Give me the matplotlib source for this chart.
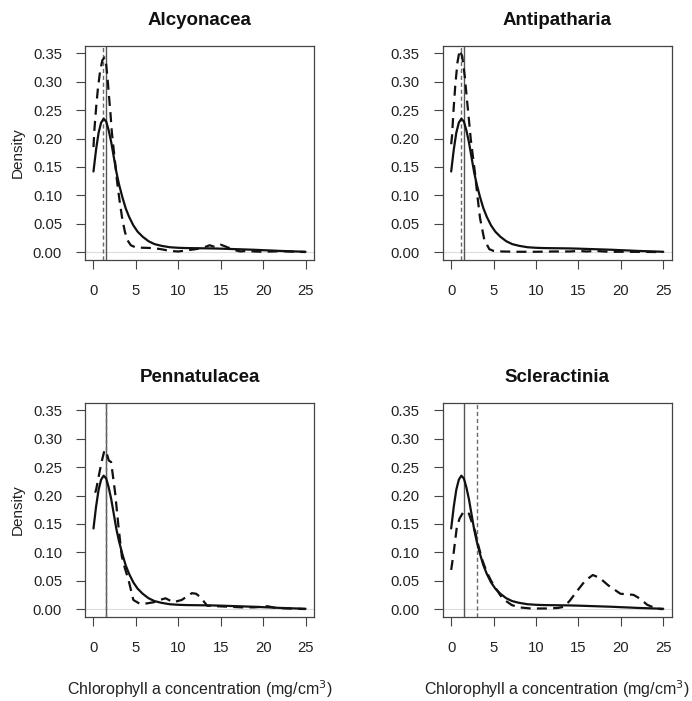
import matplotlib
matplotlib.use("Agg")
import matplotlib.pyplot as plt

plt.rcParams['font.family'] = ['Liberation Sans', 'DejaVu Sans']

# ---------------- data ----------------
titles = ["Alcyonacea", "Antipatharia", "Pennatulacea", "Scleractinia"]

# overall density (solid), same in every panel
overall_x = [0, 0.3, 0.6, 0.9, 1.2, 1.5, 1.8, 2.1, 2.4, 2.7, 3.0, 3.4, 3.8, 4.2, 4.7,
             5.2, 5.8, 6.5, 7.2, 8, 9, 10, 11, 12, 13, 14, 15, 16, 17, 18, 19, 20,
             21, 22, 23, 24, 25]
overall_y = [0.142, 0.180, 0.210, 0.228, 0.235, 0.230, 0.214, 0.193, 0.167, 0.141,
             0.120, 0.097, 0.077, 0.062, 0.047, 0.036, 0.027, 0.019, 0.014, 0.011,
             0.0085, 0.0075, 0.007, 0.0068, 0.0066, 0.0064, 0.006, 0.0055, 0.005,
             0.0045, 0.004, 0.0033, 0.0027, 0.002, 0.0015, 0.001, 0.0005]

# taxon densities (dashed)
alc_x = [0.0, 0.12, 0.32, 0.52, 0.79, 1.05, 1.3, 1.5, 1.69, 1.85, 2.0, 2.16, 2.35, 2.5,
         2.8, 3.1, 3.4, 3.7, 4.0, 4.4, 5.0, 6, 7, 8, 9, 10, 11, 12, 13, 13.7, 14.3,
         15, 15.7, 16.5, 17.3, 18, 19, 20, 21, 22, 23, 24, 25]
alc_y = [0.185, 0.218, 0.256, 0.288, 0.320, 0.338, 0.343, 0.330, 0.300, 0.271, 0.245,
         0.212, 0.185, 0.165, 0.122, 0.088, 0.058, 0.036, 0.021, 0.012, 0.008, 0.0075,
         0.007, 0.005, 0.002, 0.001, 0.003, 0.005, 0.008, 0.012, 0.009, 0.013, 0.009,
         0.004, 0.001, 0.002, 0.001, 0.0005, 0.001, 0.0015, 0.001, 0.0005, 0.0]

ant_x = [0.0, 0.1, 0.3, 0.5, 0.75, 1.0, 1.3, 1.6, 1.85, 2.05, 2.3, 2.55, 2.8, 3.1, 3.4,
         3.9, 4.5, 5.0, 6, 8, 10, 12, 14, 15, 16, 17, 18, 19, 20, 22, 25]
ant_y = [0.19, 0.205, 0.255, 0.297, 0.335, 0.356, 0.345, 0.310, 0.270, 0.240, 0.200,
         0.170, 0.140, 0.098, 0.060, 0.022, 0.005, 0.002, 0.001, 0.0005, 0.0005, 0.001,
         0.001, 0.002, 0.001, 0.002, 0.001, 0.0005, 0.0005, 0.0003, 0.0]

pen_x = [0.2, 0.32, 0.79, 1.05, 1.3, 1.55, 1.8, 2.08, 2.55, 2.95, 3.34, 3.7, 4.12, 4.7,
         5.5, 6.3, 7.1, 7.8, 8.5, 9.4, 10.4, 11.0, 11.6, 12.1, 12.6, 13.4, 14.6, 16,
         17.5, 19, 20.5, 21.5, 23, 25]
pen_y = [0.205, 0.211, 0.247, 0.265, 0.280, 0.275, 0.262, 0.259, 0.205, 0.145, 0.093,
         0.072, 0.052, 0.016, 0.009, 0.010, 0.012, 0.016, 0.019, 0.012, 0.016, 0.022,
         0.028, 0.027, 0.021, 0.006, 0.005, 0.004, 0.003, 0.003, 0.005, 0.002, 0.001, 0.0]

scl_x = [0.0, 0.3, 0.67, 1.0, 1.4, 1.74, 2.1, 2.5, 2.8, 3.2, 3.7, 4.2, 4.7, 5.2, 5.8, 6.3,
         7.15, 8, 9.4, 10.5, 11.5, 12.6, 13.3, 14.0, 14.8, 15.8, 16.7, 17.5, 18.5, 19.95,
         21.5, 22.3, 23.1, 24.0, 24.7, 25]
scl_y = [0.069, 0.100, 0.145, 0.160, 0.170, 0.172, 0.168, 0.150, 0.138, 0.112, 0.085,
         0.065, 0.050, 0.038, 0.024, 0.016, 0.007, 0.003, 0.001, 0.001, 0.001, 0.002,
         0.004, 0.015, 0.031, 0.050, 0.060, 0.055, 0.042, 0.027, 0.025, 0.018, 0.0076,
         0.002, 0.0, 0.0]

taxon_x = [alc_x, ant_x, pen_x, scl_x]
taxon_y = [alc_y, ant_y, pen_y, scl_y]

overall_median = 1.5
taxon_median = [1.18, 1.14, 1.45, 3.1]

x_ticks = [0, 5, 10, 15, 20, 25]
y_ticks = [0.00, 0.05, 0.10, 0.15, 0.20, 0.25, 0.30, 0.35]

# ---------------- figure ----------------
W, H = 692, 701
fig = plt.figure(figsize=(W / 100, H / 100), dpi=100)

lefts = [85 / W, 442.7 / W]
bottoms = [1 - 260 / H, 1 - 617 / H]
aw, ah = 229 / W, 214.5 / H

box_col = '#444444'
for i in range(4):
    r, c = divmod(i, 2)
    ax = fig.add_axes([lefts[c], bottoms[r], aw, ah])
    ax.axhline(0, color='#dddddd', lw=0.8, zorder=1)
    ax.axvline(overall_median, color='#555555', lw=1.0, zorder=2)
    ax.axvline(taxon_median[i], color='#6a6a6a', lw=1.0, ls=(0, (3, 2)), zorder=2)
    ax.plot(overall_x, overall_y, color='#111111', lw=1.6, zorder=3,
            solid_joinstyle='round', solid_capstyle='round')
    ax.plot(taxon_x[i], taxon_y[i], color='#111111', lw=1.6, zorder=3,
            dashes=(4.5, 2.8), dash_capstyle='butt')
    ax.set_xlim(-1, 26)
    ax.set_ylim(-0.014, 0.364)
    ax.set_xticks(x_ticks)
    ax.set_xticklabels([str(v) for v in x_ticks])
    ax.set_yticks(y_ticks)
    ax.set_yticklabels(['%.2f' % v for v in y_ticks])
    ax.tick_params(axis='both', direction='out', length=6.5, width=0.8,
                   color=box_col, labelsize=10.7, labelcolor='#222222')
    ax.tick_params(axis='x', pad=11)
    ax.tick_params(axis='y', pad=10)
    for s in ax.spines.values():
        s.set_color(box_col)
        s.set_linewidth(0.9)
    ax.set_title(titles[i], fontsize=13.5, fontweight='bold', pad=15, color='#111111')
    if c == 0:
        ax.set_ylabel('Density', fontsize=11, color='#222222')
        ax.yaxis.set_label_coords(-0.262, 0.5)
    if r == 1:
        ax.set_xlabel('Chlorophyll a concentration (mg/cm$^3$)', fontsize=11.5,
                      color='#222222')
        ax.xaxis.set_label_coords(0.5, -0.285)

fig.savefig('out.png', dpi=100, facecolor='white')
